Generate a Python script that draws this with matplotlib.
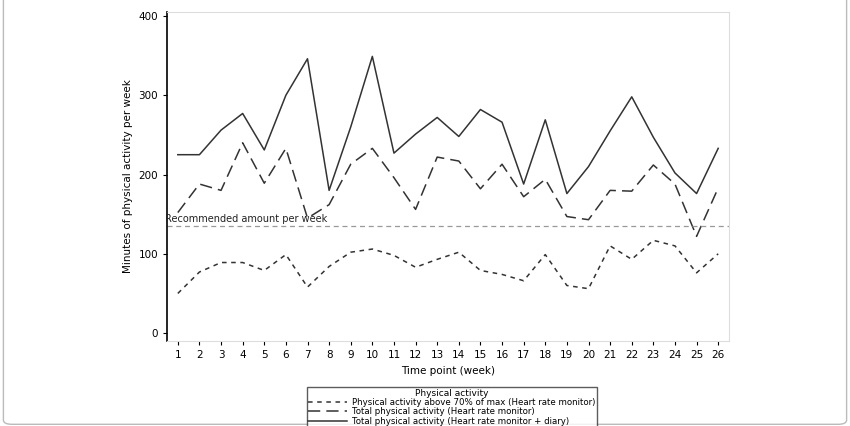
import matplotlib
matplotlib.use("Agg")
import matplotlib.pyplot as plt
from matplotlib.patches import FancyBboxPatch

weeks = list(range(1, 27))
hr_diary = [225,225,256,277,231,300,346,180,260,349,227,251,272,248,282,266,188,269,176,210,255,298,247,202,176,233]
hr_total = [152,188,180,240,189,233,145,162,213,233,196,156,222,217,182,213,172,194,147,143,180,179,212,188,122,183]
hr_above70 = [50,77,89,89,79,99,58,84,102,106,98,83,93,102,79,74,66,99,60,56,110,93,117,110,76,100]
recommended = 135

fig = plt.figure(figsize=(8.5, 4.26), dpi=100)
ax = fig.add_axes([167/850, 1-341/426, (729-167)/850, (341-12)/426])
fig.patches.append(FancyBboxPatch((0.004, 0.004), 0.992, 1.2, boxstyle="round,pad=0,rounding_size=0.01",
                                  transform=fig.transFigure, fill=False, ec="#bbbbbb", lw=1))

l1, = ax.plot(weeks, hr_above70, color="#333333", lw=1.1, ls=(0, (3, 3)))
l2, = ax.plot(weeks, hr_total, color="#333333", lw=1.1, ls=(0, (8, 4)))
l3, = ax.plot(weeks, hr_diary, color="#333333", lw=1.1, ls="-")
ax.axhline(recommended, color="#999999", lw=0.9, ls=(0, (4, 3)))
ax.text(0.4, recommended + 2, "Recommended amount per week", fontsize=7, va="bottom", ha="left", color="#222222")

ax.set_xlim(0.5, 26.5)
ax.set_ylim(-10, 405)
ax.set_xticks(weeks)
ax.set_yticks([0, 100, 200, 300, 400])
ax.tick_params(labelsize=7.5, length=3)
ax.set_xlabel("Time point (week)", fontsize=7.5)
ax.set_ylabel("Minutes of physical activity per week", fontsize=7.5)
for s in ["top", "right"]:
    ax.spines[s].set_color("#dddddd")
ax.spines["left"].set_linewidth(1.2)
ax.spines["bottom"].set_color("#dddddd")

leg = fig.legend([l1, l2, l3],
                 ["Physical activity above 70% of max (Heart rate monitor)",
                  "Total physical activity (Heart rate monitor)",
                  "Total physical activity (Heart rate monitor + diary)"],
                 title="Physical activity", loc="upper center", bbox_to_anchor=(452/850, 1-383/426),
                 fontsize=6.2, title_fontsize=6.5, frameon=True, fancybox=False, edgecolor="#333333",
                 handlelength=4.5, borderpad=0.15, labelspacing=0.05, handletextpad=0.6)
fig.savefig("out.png", dpi=100)
